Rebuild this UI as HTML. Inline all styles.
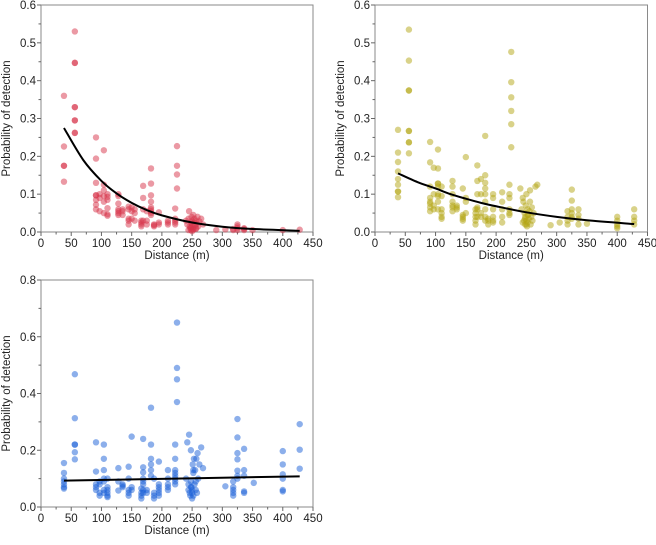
<!DOCTYPE html>
<html><head><meta charset="utf-8"><style>
body{margin:0;background:#fff;}
svg text{font-family:"Liberation Sans",sans-serif;fill:#222;}
</style></head><body>
<svg id="s" width="656" height="540"></svg>
<script>
// ---- Panel A (red) ----
const aX=[38,38,38,38,38,56,56,56,56,56,56,56,56,56,91,91,91,91,91,91,91,91,97,97,97,104,104,104,104,104,104,110,110,110,110,110,110,128,128,128,128,128,128,128,135,135,135,145,145,145,145,145,150,150,150,155,155,155,166,166,166,166,169,169,169,169,175,175,175,182,182,182,182,182,182,182,182,182,187,187,187,195,195,195,210,210,210,222,222,222,222,222,225,225,225,225,
240,242,244,245,246,247,248,248,249,250,250,251,252,252,253,254,255,256,257,258,259,260,262,265,268,244,248,252,256,250,
290,305,318,318,325,325,325,325,336,336,336,350,400,428];
const aY=[.36,.226,.175,.175,.133,.53,.447,.447,.33,.33,.295,.295,.262,.262,.25,.194,.13,.097,.097,.085,.072,.06,.1,.09,.055,.216,.125,.11,.095,.08,.05,.1,.093,.085,.063,.047,.043,.1,.095,.075,.06,.055,.05,.045,.06,.055,.045,.067,.06,.035,.03,.02,.065,.055,.035,.06,.05,.03,.03,.025,.02,.015,.122,.09,.06,.03,.055,.03,.02,.168,.128,.097,.08,.065,.06,.055,.05,.045,.02,.015,.018,.052,.025,.02,.03,.025,.02,.062,.035,.03,.025,.02,.227,.175,.152,.115,
.03,.02,.035,.055,.015,.01,.025,.005,.04,.03,.02,.012,.045,.008,.025,.035,.018,.03,.01,.022,.04,.015,.028,.035,.02,.005,.012,.006,.008,.002,
.005,.007,.005,.008,.02,.015,.01,.005,.01,.008,.005,.005,.005,.006];
const aCurveX=[38,70,100,125,150,175,200,250,300,350,428];
const aCurveY=[.275,.19,.135,.102,.077,.058,.044,.025,.014,.008,.003];
// ---- Panel B (olive) ----
const bX=[38,38,38,38,38,38,38,38,38,56,56,56,56,56,56,56,56,56,91,91,91,91,91,91,91,91,97,97,97,97,104,104,104,104,104,104,104,104,104,110,110,110,110,110,110,128,128,128,128,128,128,128,135,135,135,145,145,145,145,145,150,150,150,150,166,166,166,166,166,169,169,169,169,169,169,175,175,175,175,182,182,182,182,182,182,182,182,182,187,187,187,195,195,195,195,195,195,210,210,210,210,210,222,222,222,222,222,222,225,225,225,225,225,225,
240,242,244,245,246,247,248,248,249,250,250,251,252,252,253,254,255,256,257,258,259,260,262,265,268,244,248,252,256,250,
290,305,318,318,318,318,325,325,325,325,325,325,336,336,336,336,350,400,400,400,400,400,428,428,428,428];
const bY=[.27,.21,.185,.16,.14,.125,.107,.107,.092,.535,.453,.374,.374,.267,.267,.237,.237,.208,.238,.184,.12,.09,.08,.075,.065,.055,.17,.1,.07,.06,.218,.168,.128,.128,.12,.1,.095,.08,.06,.12,.095,.06,.05,.04,.035,.135,.12,.1,.08,.07,.065,.055,.07,.065,.06,.115,.045,.04,.035,.03,.198,.09,.08,.05,.06,.05,.04,.03,.02,.176,.135,.1,.065,.06,.04,.14,.1,.05,.04,.254,.15,.13,.115,.1,.08,.06,.04,.03,.035,.03,.02,.1,.09,.06,.04,.03,.025,.105,.08,.06,.04,.025,.125,.1,.09,.06,.05,.045,.476,.396,.356,.32,.285,.224,
.115,.06,.09,.08,.03,.05,.04,.02,.07,.1,.03,.015,.06,.025,.045,.035,.055,.08,.02,.04,.065,.03,.05,.12,.125,.025,.035,.045,.11,.02,
.018,.025,.055,.04,.03,.02,.112,.083,.06,.05,.04,.035,.06,.045,.035,.02,.022,.04,.03,.02,.015,.01,.06,.04,.03,.02];
const bCurveX=[38,70,100,125,150,175,200,250,300,350,428];
const bCurveY=[.155,.132,.115,.1,.088,.077,.068,.052,.04,.031,.021];
// ---- Panel C (blue) ----
const cX=[38,38,38,38,38,38,38,56,56,56,56,56,56,91,91,91,91,91,97,97,97,97,104,104,104,104,104,104,104,110,110,110,110,110,110,128,128,128,135,135,135,145,145,145,145,145,150,150,150,166,166,166,166,169,169,169,169,169,169,169,169,175,175,182,182,182,182,182,182,187,187,187,187,195,195,195,195,195,195,210,210,210,210,210,222,222,222,222,222,222,222,222,225,225,225,225,
240,242,244,245,246,247,248,248,249,250,250,251,252,252,253,254,255,256,257,258,259,260,262,265,268,244,248,252,256,250,
305,318,318,318,318,318,325,325,325,325,325,325,325,336,336,336,336,336,352,400,400,400,400,400,400,428,428,428];
const cY=[.155,.12,.1,.09,.08,.07,.065,.468,.313,.22,.22,.193,.168,.228,.125,.08,.07,.06,.09,.08,.05,.04,.22,.17,.13,.1,.09,.06,.05,.1,.07,.06,.05,.04,.035,.137,.09,.058,.08,.075,.07,.142,.1,.06,.05,.04,.248,.07,.06,.065,.05,.04,.03,.24,.14,.122,.1,.09,.08,.06,.05,.06,.05,.35,.22,.17,.15,.13,.11,.1,.05,.04,.03,.16,.08,.07,.06,.05,.04,.13,.1,.08,.07,.06,.22,.17,.13,.12,.11,.1,.09,.08,.65,.49,.45,.37,
.1,.228,.06,.255,.05,.04,.2,.09,.07,.06,.03,.15,.12,.04,.17,.08,.13,.06,.17,.05,.19,.1,.15,.21,.137,.08,.07,.13,.09,.05,
.073,.09,.07,.06,.05,.04,.31,.245,.19,.168,.128,.11,.1,.205,.13,.11,.055,.05,.085,.197,.15,.115,.1,.06,.055,.292,.202,.135];
const cCurveX=[38,428];
const cCurveY=[.093,.108];
const xTicks=[0,50,100,150,200,250,300,350,400,450];
const yTicksAB=["0.0","0.1","0.2","0.3","0.4","0.5","0.6"];
const yTicksC=["0.0","0.2","0.4","0.6","0.8"];

const NS="http://www.w3.org/2000/svg";
const svg=document.getElementById('s');
function mk(tag,attrs,parent){const e=document.createElementNS(NS,tag);for(const k in attrs)e.setAttribute(k,attrs[k]);(parent||svg).appendChild(e);return e;}

function panel(name,L,R,T,B,ymax,yticks,xs,ys,cx,cy,color){
  const g=mk('g',{});
  
  
  const sx=v=>L+(v/450)*(R-L);
  const sy=v=>B-(v/ymax)*(B-T);
  const fr=mk('rect',{x:L,y:T,width:R-L,height:B-T,fill:'none',stroke:'#8a8a8a','stroke-width':1},g);
  
  
  xTicks.forEach((t,i)=>{
    const x=sx(t);
    mk('line',{x1:x,x2:x,y1:B,y2:B+4,stroke:'#666'},g);
    if(i<xTicks.length-1)mk('line',{x1:sx(t+25),x2:sx(t+25),y1:B,y2:B+2.5,stroke:'#666'},g);
    const tx=mk('text',{x:x,y:B+15,'text-anchor':'middle','font-size':11.5},g);
    tx.textContent=t;
    
    
  });
  const step=ymax/(yticks.length-1);
  yticks.forEach((t,i)=>{
    const y=sy(i*step);
    mk('line',{x1:L-4,x2:L,y1:y,y2:y,stroke:'#666'},g);
    if(i<yticks.length-1)mk('line',{x1:L-2.5,x2:L,y1:sy(i*step+step/2),y2:sy(i*step+step/2),stroke:'#666'},g);
    const ty=mk('text',{x:L-5,y:y+4,'text-anchor':'end','font-size':11.5},g);
    ty.textContent=t;
    
    
  });
  const xt=mk('text',{x:(L+R)/2,y:B+27,'text-anchor':'middle','font-size':11.5},g);
  xt.textContent='Distance (m)';
  
  
  const yt=mk('text',{transform:`translate(${L-31},${(T+B)/2}) rotate(-90)`,'text-anchor':'middle','font-size':11.5},g);
  yt.textContent='Probability of detection';
  
  
  xs.forEach((xv,i)=>{
    const c=mk('circle',{cx:sx(xv),cy:sy(ys[i]),r:3.2,fill:color,'fill-opacity':0.5},g);
    
    
  });
  let pts=cx.map((v,i)=>[sx(v),sy(cy[i])]);
  let d='M'+pts[0][0]+','+pts[0][1];
  for(let i=0;i<pts.length-1;i++){
    const p0=pts[Math.max(0,i-1)],p1=pts[i],p2=pts[i+1],p3=pts[Math.min(pts.length-1,i+2)];
    const c1=[p1[0]+(p2[0]-p0[0])/6,p1[1]+(p2[1]-p0[1])/6];
    const c2=[p2[0]-(p3[0]-p1[0])/6,p2[1]-(p3[1]-p1[1])/6];
    d+=` C${c1[0]},${c1[1]} ${c2[0]},${c2[1]} ${p2[0]},${p2[1]}`;
  }
  const ln=mk('path',{d:d,fill:'none',stroke:'#000','stroke-width':2},g);
  
  
}
panel('panel-red',41,313,5,232,0.6,yTicksAB,aX,aY,aCurveX,aCurveY,'#d8344a');
panel('panel-olive',375,647.5,5,232,0.6,yTicksAB,bX,bY,bCurveX,bCurveY,'#b3a514');
panel('panel-blue',41,313,280,507,0.8,yTicksC,cX,cY,cCurveX,cCurveY,'#1a5fd8');
</script>
</body></html>
